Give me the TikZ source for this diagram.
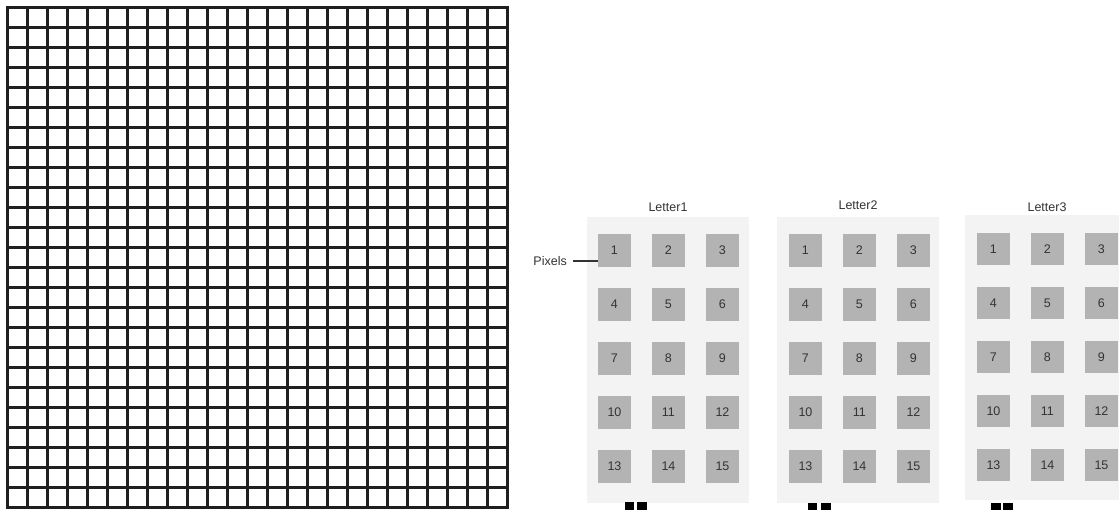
\documentclass[tikz,border=0pt]{standalone}
\usepackage{fontspec}
\setmainfont{Liberation Sans}
\definecolor{pixgray}{HTML}{B3B3B3}
\definecolor{bggray}{HTML}{F3F3F3}
\definecolor{txt}{HTML}{333333}
\begin{document}
\begin{tikzpicture}[x=1pt,y=-1pt,
  gridline/.style={line width=2.3pt, color=black!88, line cap=rect},
  letterbox/.style={draw=none, fill=bggray, inner sep=0pt, anchor=north west},
  pixel/.style={draw=none, fill=pixgray, minimum size=32.5pt, inner sep=0pt, anchor=north west, font=\fontsize{12.5}{14}\selectfont, text=txt},
  lbl/.style={font=\fontsize{12.5}{14}\selectfont, text=txt, inner sep=0pt},
  conn/.style={draw=txt, line width=1.2pt},
  blackmark/.style={fill=black}]
\useasboundingbox (0,0) rectangle (1119,510);
\fill[white] (0,0) rectangle (1119,510);
% big grid
\foreach \i in {0,...,25} {
  \draw[gridline] (7.5+20*\i,7.5) -- (7.5+20*\i,507.5);
  \draw[gridline] (7.5,7.5+20*\i) -- (507.5,7.5+20*\i);
}
% letters
\foreach \n/\lx/\ly/\bx/\by/\bw/\bh/\cx/\cy in {1/668/207/587/217/162/286/598/234, 2/858/205/777/217/162/286/789/234, 3/1047/207/965/215/162/285/977/232.5} {
  \node[letterbox, minimum width=\bw pt, minimum height=\bh pt] (L\n) at (\bx,\by) {};
  \node[lbl] (T\n) at (\lx,\ly) {Letter\n};
  \foreach \r in {0,...,4} {
    \foreach \c in {0,...,2} {
      \pgfmathtruncatemacro\k{3*\r+\c+1}
      \node[pixel] (L\n p\k) at (\cx+54*\c,\cy+54*\r) {\k};
    }
  }
}
% Pixels label
\node[lbl, anchor=east] (pixlabel) at (567,261) {Pixels};
\draw[conn, shorten <=6pt] (pixlabel.east) -- (L1p1.west |- pixlabel.east);
% marks at the bottom
\fill[blackmark] (625,502) rectangle (633.5,510);
\fill[blackmark] (637,502) rectangle (647,510);
\fill[blackmark] (808,503) rectangle (817,510);
\fill[blackmark] (821,503) rectangle (831,510);
\fill[blackmark] (991,503) rectangle (1001,510);
\fill[blackmark] (1003,503) rectangle (1013,510);
\end{tikzpicture}
\end{document}
